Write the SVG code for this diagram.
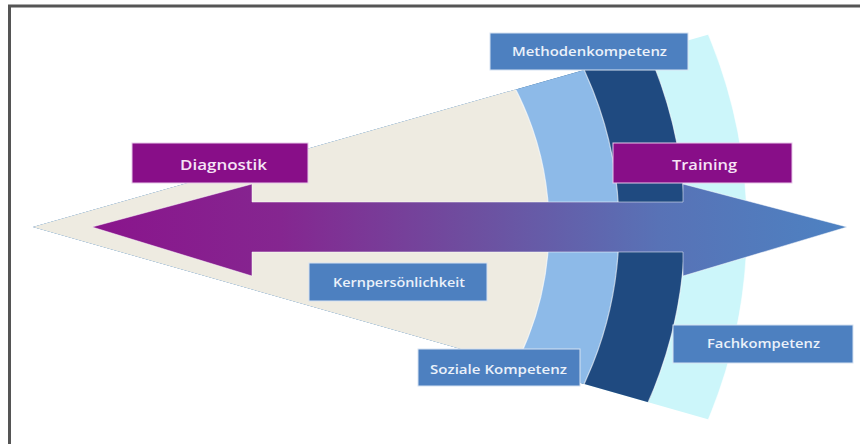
<svg xmlns="http://www.w3.org/2000/svg" width="860" height="444" viewBox="0 0 860 444">
<style>
.lbl{font-family:"Open Sans","Liberation Sans",sans-serif;font-weight:600;text-anchor:middle}
.bl{fill:#4D80C0;stroke:#D6E2F2;stroke-width:1}
.pu{fill:#880E88;stroke:#E8C8EA;stroke-width:1}
.tb{fill:#EAF1FA}
.tp{fill:#F6E4F6}
.band{stroke:#FFFFFF;stroke-opacity:0.6;stroke-width:1.2}
</style>
<defs>
<clipPath id="wedge"><polygon points="33,227 900,-20 900,474"/></clipPath>
<linearGradient id="ag" x1="92" y1="0" x2="847" y2="0" gradientUnits="userSpaceOnUse">
<stop offset="0" stop-color="#8A148C"/>
<stop offset="0.25" stop-color="#852690"/>
<stop offset="0.5" stop-color="#6E4E9F"/>
<stop offset="0.75" stop-color="#5872B6"/>
<stop offset="1" stop-color="#4D82C2"/>
</linearGradient>
</defs>
<rect x="0" y="0" width="860" height="444" fill="#FFFFFF"/>
<g id="frame" fill="none" stroke="#555555" stroke-width="3">
<line x1="8" y1="6" x2="860" y2="6"/>
<line x1="9.5" y1="5" x2="9.5" y2="444"/>
</g>
<g id="bands" clip-path="url(#wedge)">
<circle class="band" cx="248" cy="227" r="499" fill="#CCF6FA"/>
<circle class="band" cx="248" cy="227" r="437" fill="#1F4A80"/>
<circle class="band" cx="248" cy="227" r="371" fill="#8DBAE8"/>
<circle class="band" cx="248" cy="227" r="301" fill="#EEEBE1"/>
</g>
<g id="connectors">
<path d="M92,227 L252,184 L252,202 L683,202 L683,184 L847,227 L683,276 L683,252 L252,252 L252,276 Z" fill="url(#ag)" stroke="#FFFFFF" stroke-opacity="0.5" stroke-width="1"/>
</g>
<g id="methodenkompetenz">
<rect class="bl" x="490" y="33" width="198" height="37"/>
<text class="lbl tb" x="589.5" y="56" font-size="12.5" textLength="155" lengthAdjust="spacingAndGlyphs">Methodenkompetenz</text>
</g>
<g id="diagnostik">
<rect class="pu" x="132" y="143" width="176" height="40"/>
<text class="lbl tp" x="223.5" y="170" font-size="15" textLength="87" lengthAdjust="spacingAndGlyphs">Diagnostik</text>
</g>
<g id="training">
<rect class="pu" x="613" y="143" width="179" height="40"/>
<text class="lbl tp" x="704.5" y="170" font-size="15" textLength="65" lengthAdjust="spacingAndGlyphs">Training</text>
</g>
<g id="kernpersoenlichkeit">
<rect class="bl" x="309" y="263" width="178" height="38"/>
<text class="lbl tb" x="399" y="287" font-size="13" textLength="132" lengthAdjust="spacingAndGlyphs">Kernpersönlichkeit</text>
</g>
<g id="soziale-kompetenz">
<rect class="bl" x="418" y="349" width="162" height="37"/>
<text class="lbl tb" x="498.5" y="374" font-size="13" textLength="137" lengthAdjust="spacingAndGlyphs">Soziale Kompetenz</text>
</g>
<g id="fachkompetenz">
<rect class="bl" x="673" y="325" width="180" height="38"/>
<text class="lbl tb" x="763.5" y="348" font-size="12.5" textLength="113" lengthAdjust="spacingAndGlyphs">Fachkompetenz</text>
</g>
</svg>
